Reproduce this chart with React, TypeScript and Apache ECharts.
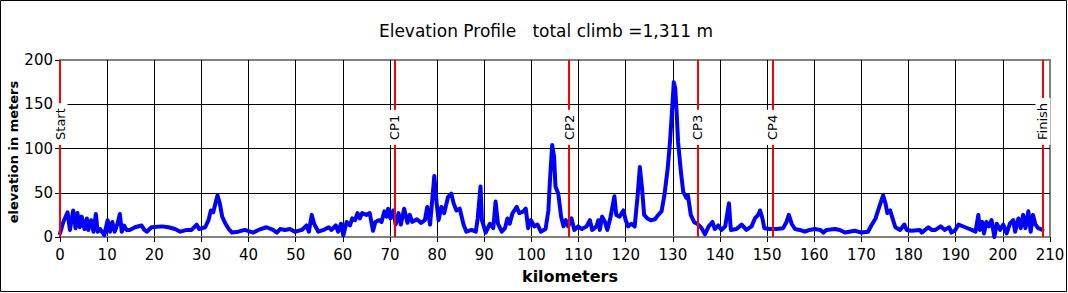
import React, { useEffect, useRef } from "react";
import * as echarts from "echarts";

const FONT = "'DejaVu Sans', 'Liberation Sans', sans-serif";

const TITLE = "Elevation Profile   total climb =1,311 m";
const X_NAME = "kilometers";
const Y_NAME = "elevation in meters";

const KM = [
  0.0, 0.7, 1.6, 2.1, 2.8, 3.3, 3.7, 4.2, 4.6, 5.2, 5.7, 6.0, 6.6, 7.1, 7.6, 8.0, 8.5, 9.4, 10.1, 10.6,
  11.1, 11.6, 12.2, 12.7, 13.1, 13.6, 14.1, 14.8, 15.9, 17.3, 17.9, 18.4, 19.4, 21.6, 23.0, 24.4, 25.5, 26.9, 27.9, 29.0,
  29.5, 30.8, 31.5, 32.0, 32.5, 33.4, 33.9, 34.4, 35.1, 35.8, 36.5, 37.8, 39.2, 41.0, 42.1, 43.8, 45.2, 46.0, 46.7, 47.7,
  48.8, 49.8, 51.3, 52.3, 52.8, 53.4, 53.9, 54.8, 55.9, 57.0, 57.6, 58.5, 59.0, 59.6, 60.1, 60.8, 61.5, 62.0, 62.6, 63.1,
  63.6, 64.1, 65.0, 65.7, 66.4, 66.9, 67.7, 68.2, 68.8, 69.3, 69.6, 70.1, 70.7, 71.2, 71.8, 72.3, 73.0, 73.7, 74.2, 74.7,
  75.7, 76.6, 77.4, 77.9, 78.5, 79.4, 79.9, 80.3, 80.9, 81.5, 82.3, 83.0, 83.5, 84.1, 84.8, 85.6, 86.2, 87.3, 88.2, 88.6,
  89.2, 89.5, 90.3, 91.2, 91.9, 92.4, 92.9, 93.7, 94.4, 94.9, 95.4, 96.0, 96.9, 97.4, 98.3, 98.8, 99.3, 99.9, 100.6, 101.3,
  102.0, 103.0, 103.6, 103.9, 104.4, 104.8, 105.1, 105.7, 106.3, 106.8, 107.3, 107.8, 108.5, 109.1, 109.9, 110.7, 111.7, 112.4, 112.9, 113.8,
  114.2, 114.5, 115.0, 115.6, 116.1, 116.8, 117.6, 118.0, 118.7, 119.5, 120.0, 120.5, 121.2, 121.9, 122.5, 123.0, 123.5, 123.9, 124.6, 125.3,
  126.2, 126.9, 127.6, 128.2, 128.9, 129.4, 129.9, 130.2, 130.5, 130.8, 131.1, 131.7, 132.2, 132.9, 133.2, 133.8, 134.5, 135.4, 136.1, 136.8,
  137.6, 138.4, 138.9, 139.6, 140.3, 141.1, 141.9, 142.3, 143.5, 144.6, 145.6, 146.7, 147.4, 148.1, 148.5, 149.0, 149.4, 150.6, 152.0, 153.4,
  154.1, 154.6, 155.2, 155.9, 156.9, 158.0, 159.0, 160.1, 161.3, 161.9, 162.6, 164.4, 165.4, 166.5, 168.6, 170.0, 171.4, 172.1, 173.0, 173.9,
  174.6, 175.1, 175.5, 176.1, 176.6, 177.2, 178.2, 179.1, 179.6, 180.6, 182.4, 182.8, 184.2, 184.9, 185.7, 186.8, 187.7, 188.6, 189.1, 189.8,
  190.6, 192.0, 193.4, 194.2, 194.8, 195.1, 195.6, 196.0, 196.5, 197.0, 197.6, 198.2, 198.7, 199.4, 200.1, 200.8, 201.5, 202.2, 202.6, 203.3,
  203.8, 204.3, 204.8, 205.4, 205.9, 206.4, 206.9, 207.5, 208.4,
];

const ELEV = [
  4, 17, 28, 8, 30, 10, 27, 11, 23, 9, 21, 8, 19, 6, 26, 6, 9, 2, 19, 6,
  17, 6, 15, 26, 6, 13, 8, 8, 11, 13, 8, 6, 11, 12, 11, 9, 6, 8, 8, 14,
  9, 11, 19, 30, 28, 47, 38, 23, 15, 9, 5, 6, 8, 5, 8, 11, 8, 5, 9, 8,
  9, 6, 8, 13, 6, 25, 15, 6, 8, 11, 8, 13, 6, 15, 2, 17, 13, 21, 19, 27,
  21, 27, 25, 27, 7, 17, 19, 17, 29, 23, 32, 21, 30, 14, 27, 14, 32, 16, 25, 17,
  20, 16, 19, 34, 14, 69, 38, 19, 34, 27, 45, 49, 38, 30, 32, 14, 6, 8, 6, 21,
  57, 19, 5, 15, 10, 40, 15, 6, 10, 21, 15, 27, 34, 27, 29, 32, 10, 19, 12, 14,
  6, 9, 30, 61, 104, 91, 57, 49, 23, 12, 19, 12, 21, 8, 12, 9, 12, 19, 8, 12,
  19, 8, 23, 17, 8, 23, 46, 25, 23, 30, 19, 12, 15, 12, 45, 79, 53, 25, 21, 19,
  20, 25, 29, 47, 77, 108, 149, 175, 168, 141, 108, 74, 51, 44, 47, 25, 17, 14, 10, 3,
  12, 17, 9, 13, 8, 12, 38, 8, 9, 14, 8, 12, 21, 25, 30, 21, 10, 9, 9, 10,
  17, 25, 15, 9, 8, 6, 8, 9, 8, 5, 8, 9, 8, 5, 7, 5, 6, 13, 21, 36,
  47, 38, 27, 30, 21, 11, 8, 14, 8, 7, 8, 5, 11, 8, 8, 12, 8, 11, 5, 7,
  14, 11, 8, 6, 25, 8, 17, 4, 17, 12, 19, 0, 15, 8, 14, 4, 15, 19, 6, 21,
  10, 25, 10, 29, 6, 25, 14, 10, 8,
];

const CP_NAMES = ["Start", "CP1", "CP2", "CP3", "CP4", "Finish"];
const CP_KM = [0, 71.0, 108.0, 135.3, 151.1, 208.5];
const CP_LABEL_ELEV = 104;

const X_MIN = 0;
const X_MAX = 210;
const X_STEP = 10;
const Y_MIN = 0;
const Y_MAX = 200;
const Y_STEP = 50;

export default function App() {
  const ref = useRef<HTMLDivElement>(null);

  useEffect(() => {
    if (!ref.current) return;
    const chart = echarts.init(ref.current, undefined, { renderer: "svg" });

    const baseGraphic: any[] = [
      {
        type: "rect",
        z: 0,
        silent: true,
        shape: { x: 0.5, y: 0.5, width: 1066, height: 291 },
        style: { fill: "none", stroke: "#000", lineWidth: 1 },
      },
      {
        type: "text",
        x: 546,
        y: 31,
        z: 100,
        style: {
          text: TITLE,
          fill: "#000",
          fontSize: 17,
          fontFamily: FONT,
          align: "center",
          verticalAlign: "middle",
        },
      },
      {
        type: "text",
        x: 570,
        y: 276,
        z: 100,
        style: {
          text: X_NAME,
          fill: "#000",
          fontSize: 16,
          fontWeight: "bold",
          fontFamily: FONT,
          align: "center",
          verticalAlign: "middle",
        },
      },
      {
        type: "text",
        x: 13,
        y: 152,
        rotation: Math.PI / 2,
        z: 100,
        style: {
          text: Y_NAME,
          fill: "#000",
          fontSize: 13,
          fontWeight: "bold",
          fontFamily: FONT,
          align: "center",
          verticalAlign: "middle",
        },
      },
    ];

    const option: any = {
      animation: false,
      backgroundColor: "#fff",
      grid: {
        left: 60,
        right: 18,
        top: 60,
        bottom: 56,
        show: true,
        borderColor: "#808080",
        borderWidth: 2,
        backgroundColor: "#fff",
      },
      xAxis: {
        type: "value",
        min: X_MIN,
        max: X_MAX,
        interval: X_STEP,
        axisLine: { show: true, onZero: false, lineStyle: { color: "#808080", width: 2 } },
        axisTick: { show: true, length: 5, lineStyle: { color: "#000" } },
        axisLabel: { color: "#000", fontSize: 15, fontFamily: FONT, margin: 10 },
        splitLine: {
          show: true,
          showMinLine: false,
          showMaxLine: false,
          lineStyle: { color: "#000", width: 1 },
        },
      },
      yAxis: {
        type: "value",
        min: Y_MIN,
        max: Y_MAX,
        interval: Y_STEP,
        axisLine: { show: true, lineStyle: { color: "#808080", width: 2 } },
        axisTick: { show: true, length: 5, lineStyle: { color: "#000" } },
        axisLabel: { color: "#000", fontSize: 15, fontFamily: FONT, margin: 7 },
        splitLine: {
          show: true,
          showMinLine: false,
          showMaxLine: false,
          lineStyle: { color: "#000", width: 1 },
        },
      },
      series: [
        {
          type: "line",
          data: KM.map((k, i) => [k, ELEV[i]]),
          showSymbol: false,
          symbol: "none",
          lineStyle: { color: "#0000ff", width: 4, join: "round", cap: "round" },
          itemStyle: { color: "#0000ff" },
          z: 3,
          markLine: {
            silent: true,
            symbol: ["none", "none"],
            lineStyle: { color: "#ff0000", width: 2, type: "solid" },
            label: { show: false },
            emphasis: { disabled: true },
            data: CP_KM.map((k) => ({ xAxis: k })),
          },
        },
      ],
      graphic: baseGraphic,
    };

    chart.setOption(option);

    const labels = CP_NAMES.map((name, i) => {
      const p = chart.convertToPixel({ gridIndex: 0 }, [CP_KM[i], CP_LABEL_ELEV]) as number[];
      return {
        type: "text",
        x: p[0],
        y: p[1],
        rotation: Math.PI / 2,
        z: 100,
        style: {
          text: name,
          fill: "#000",
          fontSize: 13,
          fontFamily: FONT,
          align: "left",
          verticalAlign: "middle",
          backgroundColor: "#fff",
          padding: [1, 5, 1, 5],
        },
      };
    });

    chart.setOption({ graphic: [...baseGraphic, ...labels] });

    return () => {
      chart.dispose();
    };
  }, []);

  return (
    <div
      ref={ref}
      style={{ position: "absolute", left: 0, top: 0, width: 1068, height: 293, background: "#fff" }}
    />
  );
}
